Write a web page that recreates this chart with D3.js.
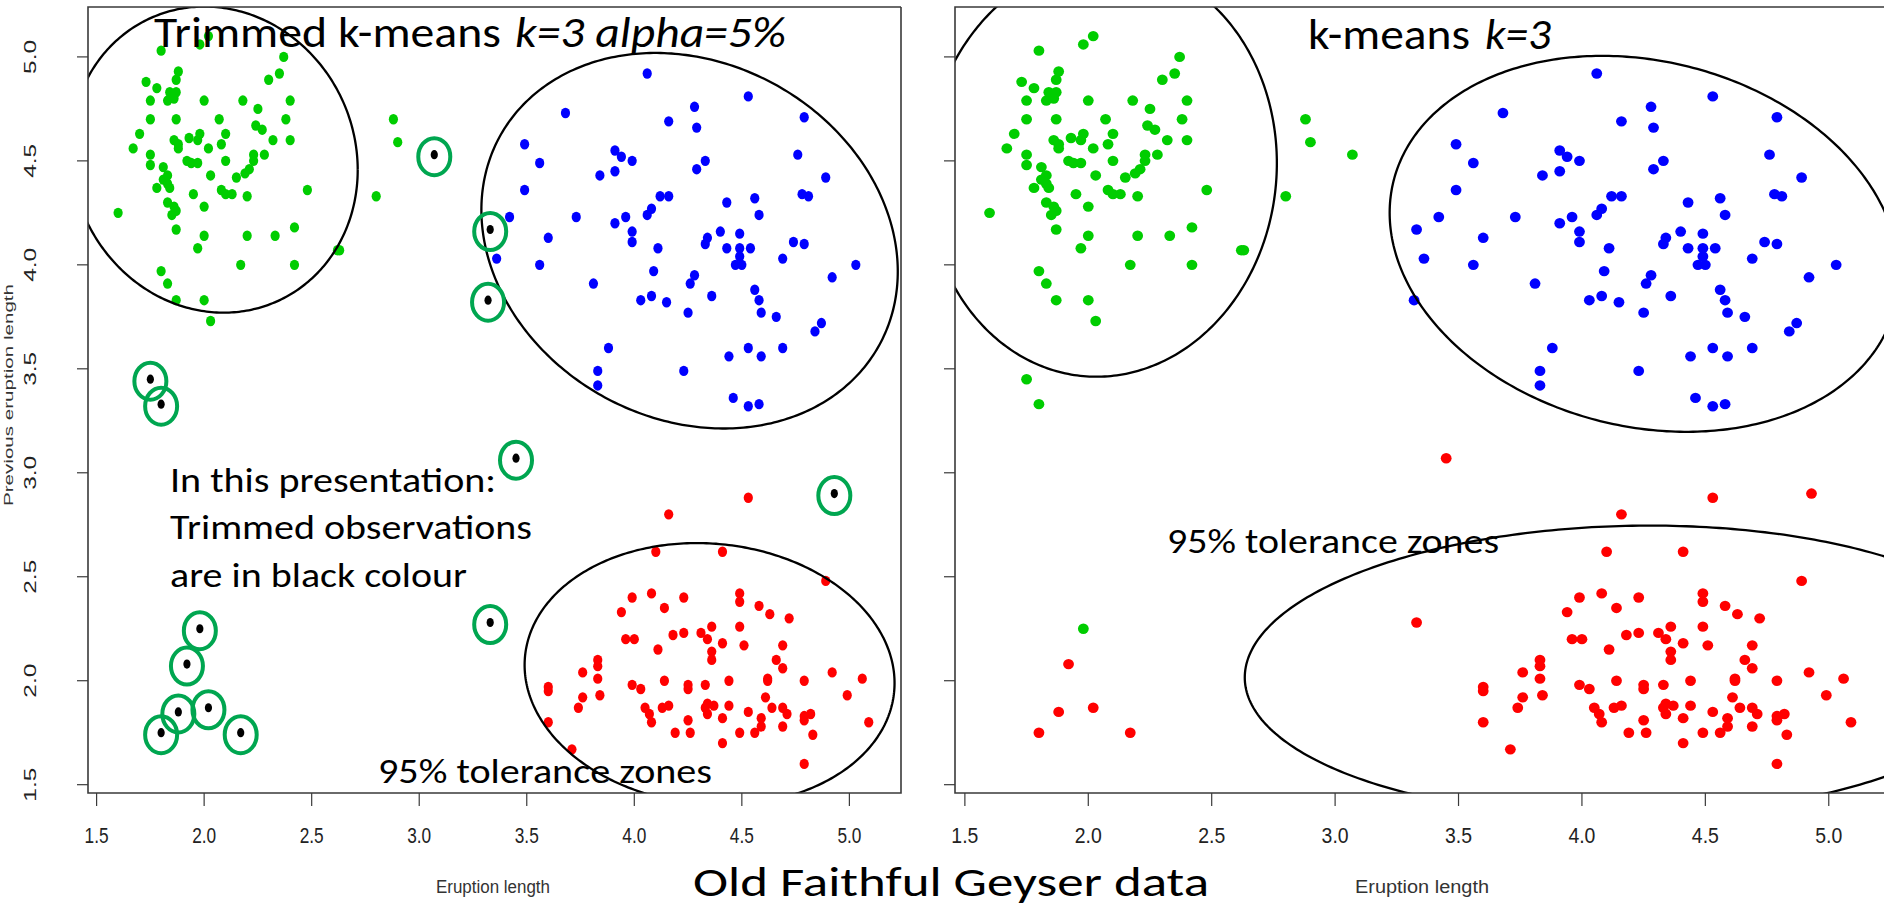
<!DOCTYPE html>
<html>
<head>
<meta charset="utf-8">
<script src="https://cdn.jsdelivr.net/npm/d3@7"></script>
<style>
  html, body { margin: 0; padding: 0; background: #fff; overflow: hidden; }
  svg { display: block; }
</style>
</head>
<body>
<svg id="chart" width="1884" height="909"></svg>
<script>
// Old Faithful: eruption length (x) against previous eruption length (y).
// Observations kept by trimmed k-means, grouped by their cluster.
const greenCluster = [
  [1.80,5.03],[1.98,5.06],[2.02,5.10],[1.88,4.93],[1.87,4.89],[1.73,4.88],[1.78,4.85],[1.84,4.83],
  [1.87,4.83],[1.83,4.79],[1.86,4.80],[1.75,4.79],[2.00,4.79],[2.18,4.79],[2.40,4.79],[2.37,5.00],
  [2.35,4.92],[2.30,4.89],[2.25,4.75],[1.75,4.70],[1.87,4.70],[2.07,4.70],[2.38,4.70],[2.24,4.67],
  [2.27,4.65],[1.70,4.63],[1.67,4.56],[1.86,4.60],[1.88,4.58],[1.88,4.56],[1.93,4.61],[1.97,4.60],
  [1.98,4.63],[2.02,4.56],[2.10,4.63],[2.08,4.58],[2.32,4.60],[2.40,4.60],[1.75,4.53],[1.75,4.48],
  [1.81,4.47],[1.83,4.43],[1.81,4.41],[1.83,4.39],[1.78,4.37],[1.84,4.37],[1.92,4.50],[1.94,4.49],
  [1.97,4.49],[2.10,4.50],[2.23,4.53],[2.23,4.50],[2.21,4.46],[2.19,4.44],[2.28,4.53],[2.03,4.43],
  [2.15,4.42],[1.95,4.34],[2.08,4.36],[2.10,4.34],[2.13,4.34],[2.20,4.33],[2.48,4.36],[2.80,4.33],
  [1.83,4.30],[1.86,4.28],[1.87,4.26],[1.85,4.24],[2.00,4.28],[1.60,4.25],[1.87,4.17],[2.00,4.14],
  [2.20,4.14],[2.33,4.14],[2.42,4.18],[1.97,4.08],[2.63,4.07],[2.62,4.07],[2.17,4.00],[2.42,4.00],
  [1.80,3.97],[1.83,3.91],[1.87,3.83],[2.00,3.83],[2.03,3.73],[2.88,4.70],[2.90,4.59]
];
const blueCluster = [
  [4.06,4.92],[3.68,4.73],[4.16,4.69],[3.49,4.58],[3.56,4.49],[3.91,4.55],[3.94,4.52],[3.99,4.50],
  [3.84,4.43],[3.91,4.45],[3.49,4.36],[4.12,4.33],[4.16,4.33],[4.08,4.27],[4.06,4.24],[3.42,4.23],
  [3.73,4.23],[3.96,4.23],[3.91,4.20],[3.99,4.16],[3.99,4.11],[3.60,4.13],[4.11,4.08],[3.36,4.03],
  [3.56,4.00],[4.09,3.97],[3.81,3.91],[4.03,3.83],[4.08,3.85],[4.15,3.82],[3.88,3.60],[3.83,3.49],
  [3.83,3.42],[4.23,3.49],[4.53,4.81],[4.28,4.76],[4.29,4.66],[4.79,4.71],[4.76,4.53],[4.33,4.50],
  [4.29,4.46],[4.89,4.42],[4.78,4.34],[4.81,4.33],[4.43,4.30],[4.56,4.32],[4.58,4.24],[4.40,4.16],
  [4.34,4.13],[4.33,4.10],[4.49,4.15],[4.43,4.08],[4.49,4.08],[4.54,4.08],[4.49,4.04],[4.47,4.00],
  [4.50,4.00],[4.74,4.11],[4.79,4.10],[4.69,4.03],[5.03,4.00],[4.92,3.94],[4.28,3.95],[4.26,3.91],
  [4.36,3.85],[4.56,3.88],[4.58,3.83],[4.59,3.77],[4.25,3.77],[4.66,3.75],[4.87,3.72],[4.84,3.68],
  [4.44,3.56],[4.53,3.60],[4.59,3.56],[4.69,3.60],[4.46,3.36],[4.53,3.32],[4.58,3.33]
];
const redCluster = [
  [4.16,2.80],[4.10,2.62],[3.99,2.40],[4.08,2.42],[4.23,2.40],[3.94,2.33],[4.14,2.35],[3.96,2.20],
  [4.00,2.20],[4.18,2.22],[4.23,2.23],[4.31,2.23],[4.36,2.26],[4.34,2.20],[4.11,2.15],[4.36,2.14],
  [4.36,2.10],[3.83,2.10],[3.83,2.07],[3.76,2.04],[3.83,2.01],[3.60,1.97],[3.60,1.95],[3.99,1.98],
  [4.03,1.96],[4.14,2.00],[4.25,1.98],[4.25,1.96],[4.33,1.98],[3.84,1.93],[3.76,1.92],[3.74,1.87],
  [4.05,1.87],[4.07,1.84],[4.08,1.80],[4.13,1.87],[4.16,1.88],[4.33,1.87],[4.34,1.89],[4.34,1.84],
  [3.60,1.80],[4.25,1.81],[4.26,1.75],[4.19,1.75],[3.71,1.67],[4.53,2.88],[4.41,2.62],[4.89,2.48],
  [4.49,2.42],[4.49,2.38],[4.58,2.36],[4.63,2.32],[4.72,2.30],[4.41,2.18],[4.49,2.26],[4.51,2.17],
  [4.69,2.17],[4.66,2.10],[4.69,2.06],[4.62,2.01],[4.62,2.00],[4.44,2.00],[4.79,2.00],[4.92,2.04],
  [5.06,2.01],[4.99,1.93],[4.61,1.92],[4.64,1.87],[4.37,1.88],[4.44,1.88],[4.41,1.82],[4.53,1.85],
  [4.59,1.82],[4.59,1.78],[4.69,1.87],[4.71,1.84],[4.69,1.78],[4.79,1.83],[4.82,1.84],[4.79,1.81],
  [5.09,1.80],[4.49,1.75],[4.56,1.75],[4.83,1.74],[4.41,1.70],[4.79,1.60]
];
// The 5% trimmed observations, and the cluster plain k-means puts each of them in.
const trimmedObs = [
  [3.07,4.53],[3.33,4.17],[3.32,3.83],[1.75,3.45],[1.80,3.33],[3.45,3.07],[4.93,2.90],
  [3.33,2.28],[1.98,2.25],[1.92,2.08],[1.88,1.85],[2.02,1.87],[1.80,1.75],[2.17,1.75]
];
const trimmedKmeansCluster = [
  "green","blue","blue","green","green","red","red",
  "red","green","red","red","red","red","red"
];

// 95% tolerance zones: centre, half-extents along x and y, and x-y correlation.
const zoneColours = ["green","blue","red"];
const trimmedZoneCenter = [[2.046,4.506],[4.257,4.116],[4.350,2.032]];
const trimmedZoneSpread = [[0.668,0.736,-0.067],[0.968,0.903,-0.164],[0.860,0.630,-0.069]];
const kmeansZoneCenter  = [[2.054,4.460],[4.253,4.101],[4.204,2.047]];
const kmeansZoneSpread  = [[0.710,0.998,0.029],[1.032,0.904,-0.165],[1.570,0.699,0.045]];

// Axis ticks
const xTicks = [1.5,2.0,2.5,3.0,3.5,4.0,4.5,5.0];
const yTicks = [1.5,2.0,2.5,3.0,3.5,4.0,4.5,5.0];
const axisDomain = [1.46, 5.24];

const pointColour = { green: "#00CD00", blue: "#0000FF", red: "#FF0000" };

const svg = d3.select("#chart");
const axisFont = "'Liberation Sans', Arial, sans-serif";
const noteFont = "Carlito, Calibri, Lato, 'Open Sans', sans-serif";

const y = d3.scaleLinear().domain(axisDomain).range([793, 7]);

const panels = [
  { key: "trim", x: d3.scaleLinear().domain(axisDomain).range([88, 901]),
    zoneCenter: trimmedZoneCenter, zoneSpread: trimmedZoneSpread,
    dot: { rx: 4.6, ry: 5.2 }, yLabels: true, xLabelLen: 24, xTitle: { cx: 493, len: 114 } },
  { key: "km", x: d3.scaleLinear().domain(axisDomain).range([955, 1888]),
    zoneCenter: kmeansZoneCenter, zoneSpread: kmeansZoneSpread,
    dot: { rx: 5.4, ry: 5.2 }, yLabels: false, xLabelLen: 27, xTitle: { cx: 1422, len: 134 } }
];

function zonePath(center, spread, xs) {
  const [cx, cy] = center, [sx, sy, r] = spread;
  const q = Math.sqrt(1 - r * r);
  const pts = d3.range(0, 361).map(d => {
    const t = d * Math.PI / 180;
    return [xs(cx + sx * Math.cos(t)), y(cy + sy * (r * Math.cos(t) + q * Math.sin(t)))];
  });
  return d3.line()(pts);
}

panels.forEach(p => {
  const [x0, x1] = p.x.range();
  const [y0, y1] = y.range(); // bottom, top
  const g = svg.append("g").attr("class", "panel-" + p.key);

  g.append("clipPath").attr("id", "clip-" + p.key)
    .append("rect").attr("x", x0).attr("y", y1).attr("width", x1 - x0).attr("height", y0 - y1);

  // points
  const core = [];
  greenCluster.forEach(d => core.push({ p: d, c: "green" }));
  blueCluster.forEach(d => core.push({ p: d, c: "blue" }));
  redCluster.forEach(d => core.push({ p: d, c: "red" }));
  const trimmed = trimmedObs.map((d, i) => ({ p: d, c: trimmedKmeansCluster[i] }));

  g.append("g").selectAll("ellipse").data(core).join("ellipse")
    .attr("cx", d => p.x(d.p[0])).attr("cy", d => y(d.p[1]))
    .attr("rx", p.dot.rx).attr("ry", p.dot.ry)
    .attr("fill", d => pointColour[d.c]);

  if (p.key === "trim") {
    g.append("g").selectAll("ellipse").data(trimmed).join("ellipse")
      .attr("cx", d => p.x(d.p[0])).attr("cy", d => y(d.p[1]))
      .attr("rx", 3.6).attr("ry", 4.6).attr("fill", "#000");
  } else {
    g.append("g").selectAll("ellipse").data(trimmed).join("ellipse")
      .attr("cx", d => p.x(d.p[0])).attr("cy", d => y(d.p[1]))
      .attr("rx", p.dot.rx).attr("ry", p.dot.ry)
      .attr("fill", d => pointColour[d.c]);
  }

  // tolerance ellipses
  g.append("g").attr("clip-path", `url(#clip-${p.key})`)
    .selectAll("path").data(zoneColours).join("path")
    .attr("d", (d, i) => zonePath(p.zoneCenter[i], p.zoneSpread[i], p.x))
    .attr("fill", "none").attr("stroke", "#000").attr("stroke-width", 2.3);

  // frame
  g.append("path")
    .attr("d", `M${x1},${y1}H${x0}V${y0}H${x1}` + (x1 < 1884 ? `V${y1}` : ""))
    .attr("fill", "none").attr("stroke", "#3a3a3a").attr("stroke-width", 1.6);

  // x axis
  const xa = g.append("g");
  xa.selectAll("line").data(xTicks).join("line")
    .attr("x1", d => p.x(d)).attr("x2", d => p.x(d))
    .attr("y1", y0).attr("y2", y0 + 13)
    .attr("stroke", "#3a3a3a").attr("stroke-width", 1.2);
  xa.selectAll("text").data(xTicks).join("text")
    .attr("x", d => p.x(d)).attr("y", 843)
    .attr("text-anchor", "middle")
    .attr("font-family", axisFont).attr("font-size", 22).attr("fill", "#222")
    .attr("textLength", p.xLabelLen).attr("lengthAdjust", "spacingAndGlyphs")
    .text(d => d3.format(".1f")(d));
  xa.append("text")
    .attr("x", p.xTitle.cx - p.xTitle.len / 2).attr("y", 893)
    .attr("font-family", axisFont).attr("font-size", 18).attr("fill", "#333")
    .attr("textLength", p.xTitle.len).attr("lengthAdjust", "spacingAndGlyphs")
    .text("Eruption length");

  // y axis
  const ya = g.append("g");
  ya.selectAll("line").data(yTicks).join("line")
    .attr("x1", x0).attr("x2", x0 - 11)
    .attr("y1", d => y(d)).attr("y2", d => y(d))
    .attr("stroke", "#3a3a3a").attr("stroke-width", 1.2);
  if (p.yLabels) {
    ya.selectAll("text").data(yTicks).join("text")
      .attr("transform", d => `translate(36,${y(d)}) rotate(-90)`)
      .attr("x", -17).attr("y", 0)
      .attr("font-family", axisFont).attr("font-size", 16).attr("fill", "#222")
      .attr("textLength", 34).attr("lengthAdjust", "spacingAndGlyphs")
      .text(d => d3.format(".1f")(d));
    ya.append("text")
      .attr("transform", "translate(13,395) rotate(-90)")
      .attr("x", -111).attr("y", 0)
      .attr("font-family", axisFont).attr("font-size", 12.5).attr("fill", "#333")
      .attr("textLength", 222).attr("lengthAdjust", "spacingAndGlyphs")
      .text("Previous eruption length");
  }
});

// circles marking the trimmed observations
const left = panels[0];
svg.append("g").selectAll("ellipse").data(trimmedObs).join("ellipse")
  .attr("cx", d => left.x(d[0])).attr("cy", d => y(d[1]) + 2)
  .attr("rx", 16).attr("ry", 18.5)
  .attr("fill", "none").attr("stroke", "#00A650").attr("stroke-width", 4);

// annotations
const notes = svg.append("g").attr("font-family", noteFont).attr("fill", "#000");
function note(txt, x, base, size, len, italic) {
  notes.append("text").attr("x", x).attr("y", base)
    .attr("font-size", size).attr("font-style", italic ? "italic" : "normal")
    .attr("textLength", len).attr("lengthAdjust", "spacingAndGlyphs")
    .text(txt);
}
note("Trimmed k-means", 154, 47, 43, 347, false);
note("k=3 alpha=5%", 515, 47, 43, 271, true);
note("k-means", 1308, 49, 43, 162, false);
note("k=3", 1485, 49, 43, 66, true);
note("In this presentation:", 170, 492, 34, 326, false);
note("Trimmed observations", 170, 539, 34, 362, false);
note("are in black colour", 170, 587, 34, 297, false);
note("95% tolerance zones", 378, 783, 34, 334, false);
note("95% tolerance zones", 1167, 553, 34, 332, false);
note("Old Faithful Geyser data", 693, 896, 42, 516, false);
</script>
</body>
</html>
